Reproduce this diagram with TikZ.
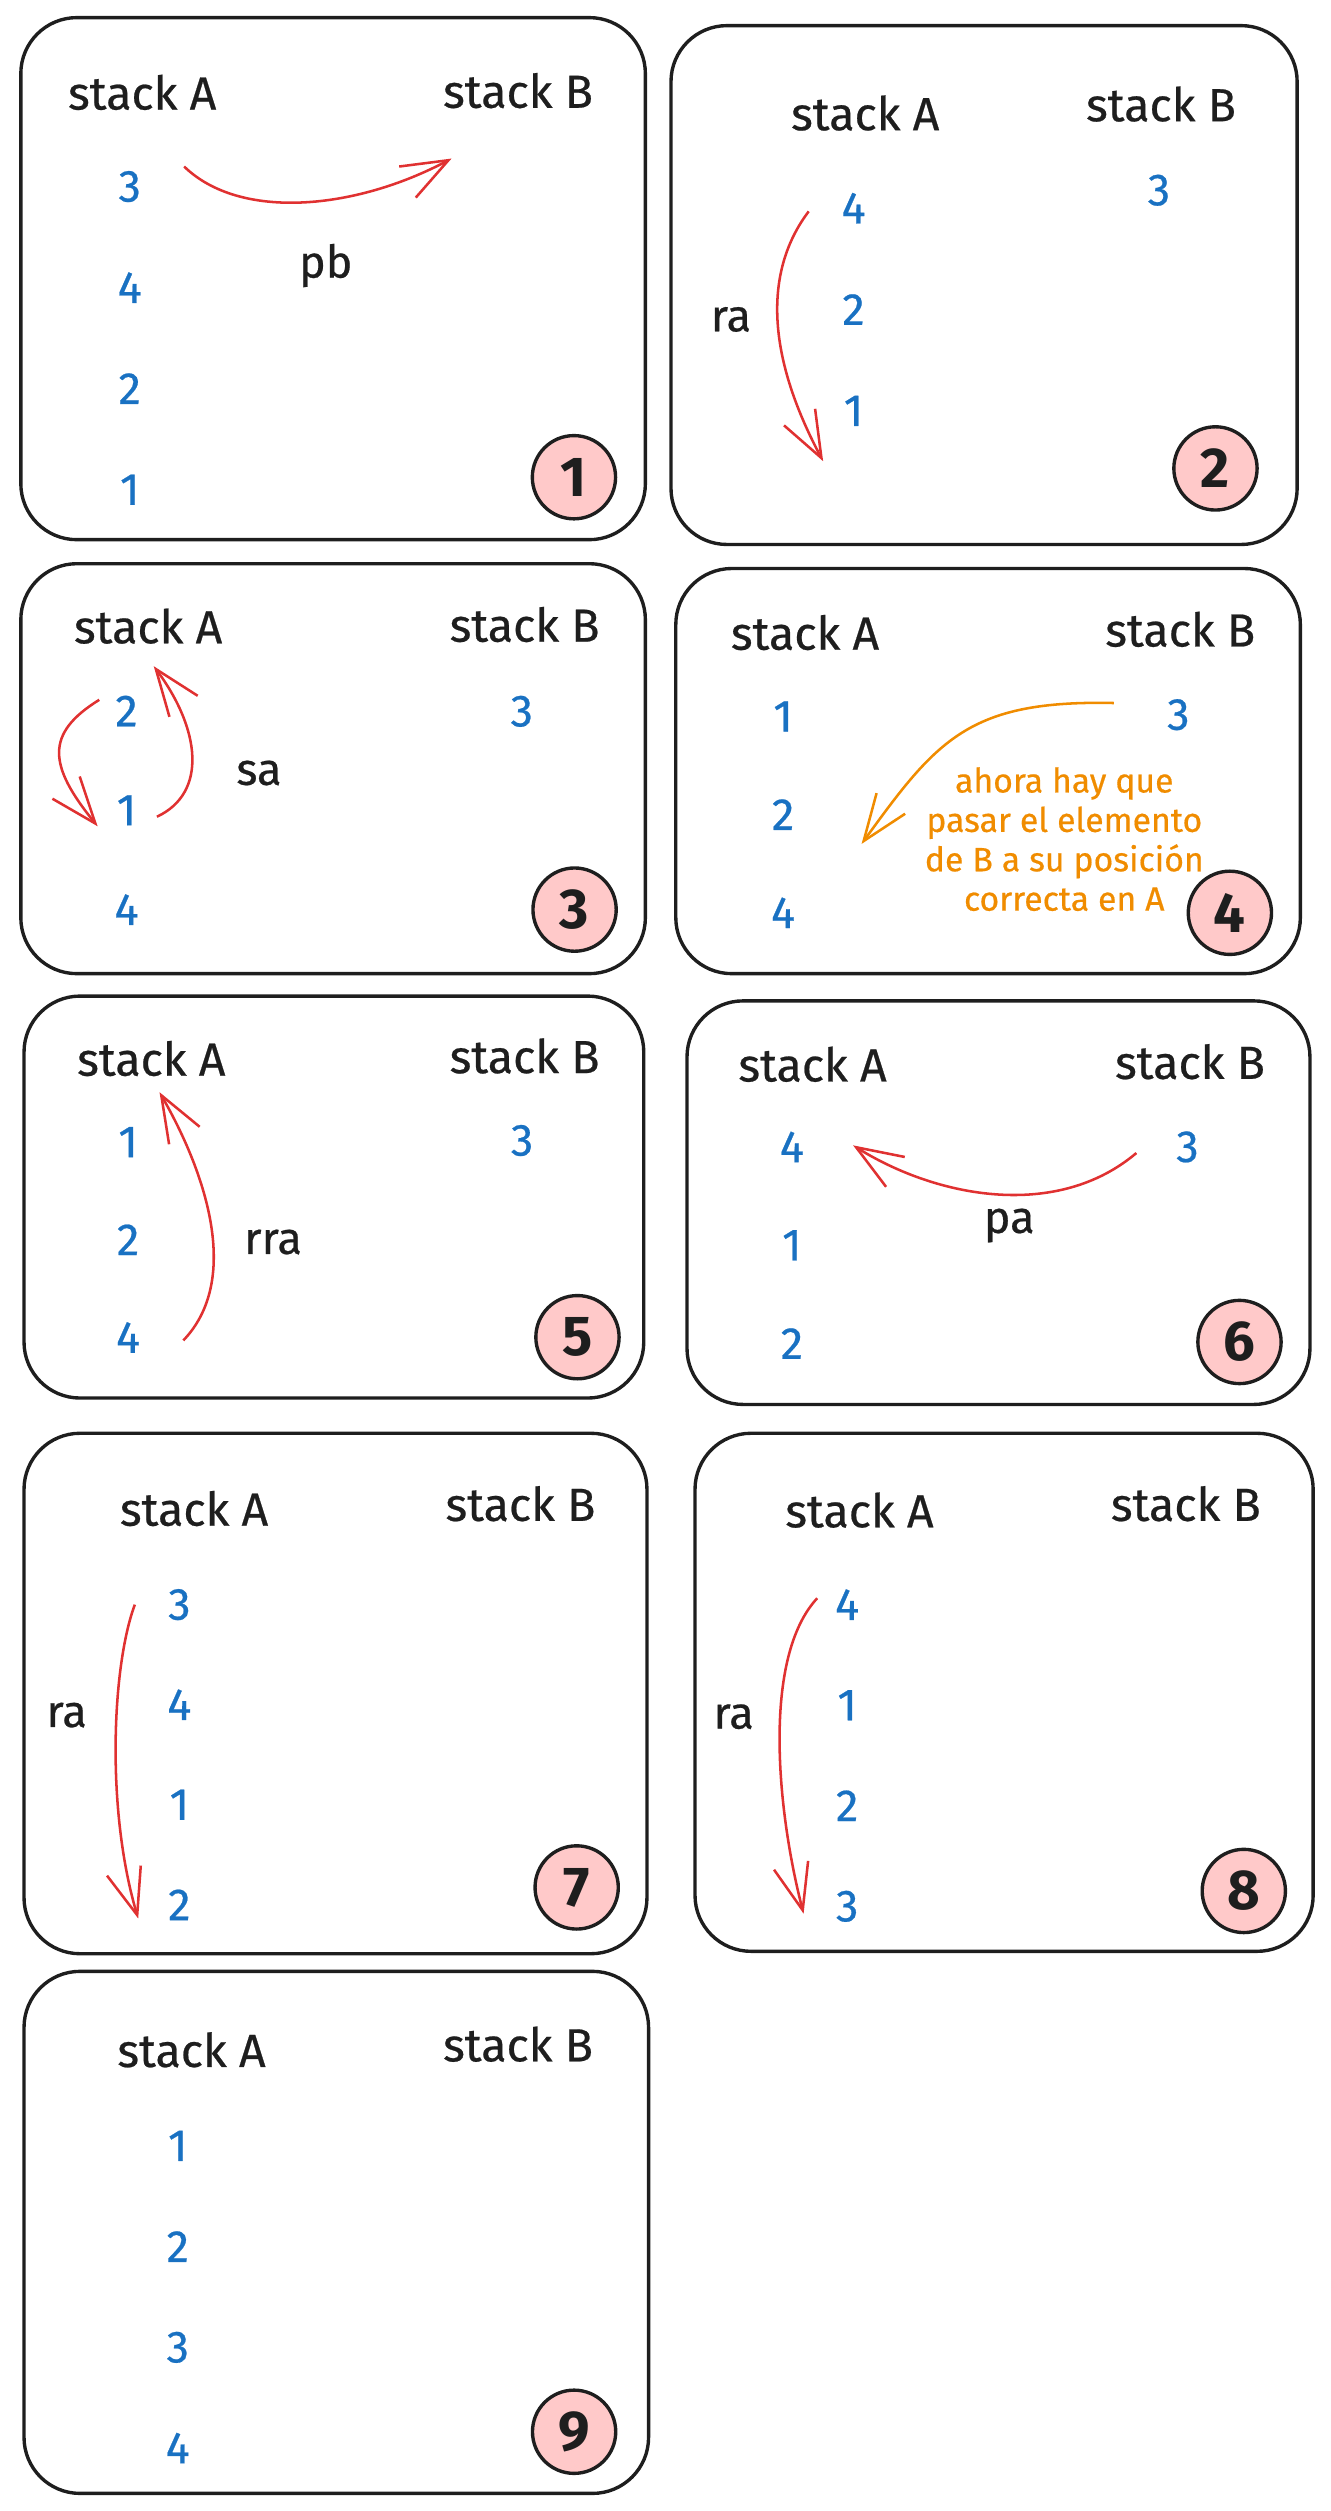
\documentclass[tikz,border=0pt]{standalone}
\usepackage{fontspec}
\setmainfont{Fira Sans}
\newfontfamily\sketchfont{Fira Sans}[FakeBold=0.5]
\usepackage{xcolor}
\usepackage{tikz}
\usetikzlibrary{arrows.meta}
\definecolor{inkblack}{HTML}{1E1E1E}
\definecolor{stackblue}{HTML}{1971C2}
\definecolor{movered}{HTML}{E03131}
\definecolor{hintorange}{HTML}{F08C00}
\definecolor{markpink}{HTML}{FFC9C9}

\begin{document}
\begin{tikzpicture}[
    x=0.02cm, y=-0.02cm,
    panel/.style={draw=inkblack, line width=1.2pt, rounded corners=0.7cm},
    stackhead/.style={font=\sketchfont\fontsize{16.5}{19}\selectfont, text=inkblack},
    stacknum/.style={font=\sketchfont\fontsize{16}{18}\selectfont, text=stackblue},
    opname/.style={font=\sketchfont\fontsize{16}{18}\selectfont, text=inkblack},
    stepmark/.style={circle, draw=inkblack, line width=1.2pt, fill=markpink, minimum size=1.04cm, inner sep=0pt, font=\fontsize{20}{22}\selectfont\bfseries, text=inkblack},
    oparrow/.style={draw=movered, line width=0.9pt, -{Straight Barb[length=5.8mm, width=4.4mm]}},
    hintarrow/.style={oparrow, draw=hintorange},
    hinttext/.style={font=\sketchfont\fontsize{12}{14}\selectfont, text=hintorange, align=center},
]
\useasboundingbox (0,0) rectangle (831,1568);

% Frames, headings and step marks
\foreach \n/\xl/\yt/\xr/\yb/\ax/\ay/\bx/\by/\cx/\cy in {
    1/13/11/403/337/88.8/57.7/323.5/56.6/358.4/298,
    2/419/16/810/340/540.3/70.6/725/65/759/292.5,
    3/13/352/403/608/92.5/391/327.6/390/358.8/568,
    4/422/355/812/608/502.7/395/737/393/768/570,
    5/15/622/402/873/94.5/661/327.6/659.4/360.6/835,
    6/429/625/818/877/507.4/664.6/743.1/663/774/838,
    7/15/895/404/1220/121.2/942/325/939/360.1/1178.6,
    8/434/895/820/1218.5/536.7/943/740.5/939/776.7/1180.8,
    9/15/1231/405/1557/119.6/1280/323.5/1276.5/358.5/1518.5} {
    \draw[panel] (\xl,\yt) rectangle (\xr,\yb);
    \node[stackhead] (headA-\n) at (\ax,\ay) {stack A};
    \node[stackhead] (headB-\n) at (\bx,\by) {stack B};
    \node[stepmark] (step-\n) at (\cx,\cy) {\n};
}

% Stack A contents, top to bottom
\foreach \n/\x/\y/\gap/\vals in {
    1/81/116.5/63.1/{3,4,2,1},
    2/533/130/63.3/{4,2,1},
    3/79/444/62/{2,1,4},
    4/489/447.4/61.3/{1,2,4},
    5/80/713.2/61/{1,2,4},
    6/494.5/716.2/61.4/{4,1,2},
    7/112/1002/62.5/{3,4,1,2},
    8/529/1002/62.8/{4,1,2,3},
    9/111/1340/62.9/{1,2,3,4}} {
    \foreach \v [count=\k from 0] in \vals
        \node[stacknum] (A\n-\v) at (\x,\y+\gap*\k) {\v};
}

% Stack B contents
\node[stacknum] (B2-3) at (723.7,118.8) {3};
\node[stacknum] (B3-3) at (325.8,444.2) {3};
\node[stacknum] (B4-3) at (735.8,446.3) {3};
\node[stacknum] (B5-3) at (326,712.2) {3};
\node[stacknum] (B6-3) at (741.5,716.2) {3};

% Step 1: pb
\coordinate (pb-from) at (115,104);
\coordinate (pb-to) at (282,99);
\draw[oparrow] (pb-from) .. controls (150,138) and (222,131) .. (pb-to);
\node[opname] (op-1) at (203.4,165.8) {pb};

% Step 2: ra
\coordinate (ra2-from) at (505,132);
\coordinate (ra2-to) at (514,288);
\draw[oparrow] (ra2-from) .. controls (480,165) and (475,215) .. (ra2-to);
\node[opname] (op-2) at (456.4,199.5) {ra};

% Step 3: sa
\coordinate (sa-down-from) at (62,437);
\coordinate (sa-down-to) at (61,516);
\coordinate (sa-up-from) at (98,510);
\coordinate (sa-up-to) at (96,416);
\draw[oparrow] (sa-down-from) .. controls (28,458) and (30,478) .. (sa-down-to);
\draw[oparrow] (sa-up-from) .. controls (130,495) and (125,455) .. (sa-up-to);
\node[opname] (op-3) at (161.7,482.7) {sa};

% Step 4: note
\coordinate (hint-from) at (695.5,439);
\coordinate (hint-to) at (538,527);
\draw[hintarrow] (hint-from) .. controls (605,437) and (585,462) .. (hint-to);
\node[hinttext] (hint) at (664.6,524) {ahora hay que\\pasar el elemento\\de B a su posición\\correcta en A};

% Step 5: rra
\coordinate (rra-from) at (114.5,837);
\coordinate (rra-to) at (99.6,682);
\draw[oparrow] (rra-from) .. controls (150,800) and (130,735) .. (rra-to);
\node[opname] (op-5) at (170.5,775.6) {rra};

% Step 6: pa
\coordinate (pa-from) at (709.6,720);
\coordinate (pa-to) at (532.7,715.2);
\draw[oparrow] (pa-from) .. controls (660,762) and (585,748) .. (pa-to);
\node[opname] (op-6) at (630.2,765.3) {pa};

% Step 7: ra
\coordinate (ra7-from) at (84.2,1002);
\coordinate (ra7-to) at (86.3,1198);
\draw[oparrow] (ra7-from) .. controls (70,1040) and (66,1130) .. (ra7-to);
\node[opname] (op-7) at (41.6,1071) {ra};

% Step 8: ra
\coordinate (ra8-from) at (510.3,998);
\coordinate (ra8-to) at (501.8,1195);
\draw[oparrow] (ra8-from) .. controls (476,1035) and (485,1130) .. (ra8-to);
\node[opname] (op-8) at (458.1,1072) {ra};

\end{tikzpicture}
\end{document}
